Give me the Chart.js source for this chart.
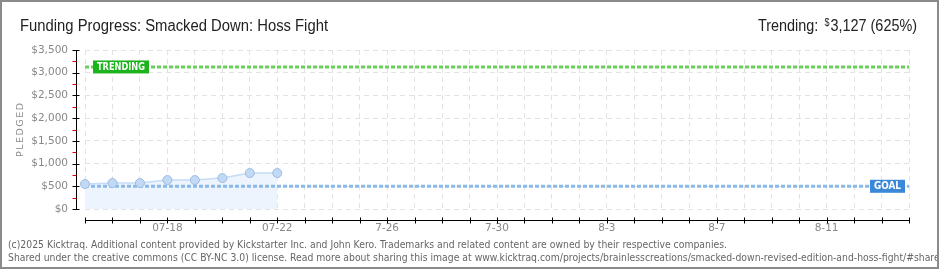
<!DOCTYPE html>
<html>
<head>
<meta charset="utf-8">
<script src="https://cdn.jsdelivr.net/npm/chart.js@4/dist/chart.umd.min.js"></script>
<style>
  html, body { margin: 0; padding: 0; background: #fff; }
  #wrap { position: relative; width: 940px; height: 270px; }
</style>
</head>
<body>
<div id="wrap"><canvas id="fundingChart" width="940" height="270"></canvas></div>
<script>
// Date pledge (zile de la 07-15)
const pledgeDays = [0, 1, 2, 3, 4, 5, 6, 7];
const pledged = [549, 571, 571, 637, 637, 681, 791, 791];
const goal = 500;
const trending = 3127;
const lastDay = 30; // 08-14

// Etichete axe
const labelDays = [3, 7, 11, 15, 19, 23, 27];
const labelTexts = ['07-18', '07-22', '7-26', '7-30', '8-3', '8-7', '8-11'];
const yMax = 3500;
const yStep = 500;

const titleText = 'Funding Progress: Smacked Down: Hoss Fight';
const trendLabel = 'Trending:';
const trendValue = '3,127 (625%)';
const footerLines = [
  '(c)2025 Kicktraq. Additional content provided by Kickstarter Inc. and John Kero. Trademarks and related content are owned by their respective companies.',
  'Shared under the creative commons (CC BY-NC 3.0) license. Read more about sharing this image at www.kicktraq.com/projects/brainlesscreations/smacked-down-revised-edition-and-hoss-fight/#share'
];

// Text scalat pe o latime data
function fitText(ctx, text, x, y, font, width, color) {
  ctx.save();
  ctx.font = font;
  ctx.fillStyle = color;
  ctx.textBaseline = 'alphabetic';
  ctx.textAlign = 'left';
  const w = ctx.measureText(text).width;
  const k = width ? width / w : 1;
  ctx.translate(x, y);
  ctx.scale(k, 1);
  ctx.fillText(text, 0, 0);
  ctx.restore();
  return k;
}

function drawTag(ctx, text, x, yMid, w, h, bg, alignRight) {
  const left = alignRight ? x - w : x;
  ctx.save();
  ctx.fillStyle = bg;
  ctx.fillRect(left, yMid - h / 2, w, h);
  ctx.fillStyle = '#fff';
  ctx.font = 'bold 10px "DejaVu Sans"';
  ctx.textBaseline = 'middle';
  ctx.textAlign = 'left';
  const tw = ctx.measureText(text).width;
  const target = w - 8;
  ctx.translate(left + 4, yMid + 0.5);
  ctx.scale(target / tw, 1);
  ctx.fillText(text, 0, 0);
  ctx.restore();
}

const decorPlugin = {
  id: 'decor',
  beforeDraw(chart) {
    const ctx = chart.ctx;
    ctx.save();
    ctx.fillStyle = '#fff';
    ctx.fillRect(0, 0, chart.width, chart.height);
    ctx.restore();
  },
  afterDraw(chart) {
    const ctx = chart.ctx;
    const area = chart.chartArea;
    const xs = chart.scales.x;
    const ys = chart.scales.y;

    // axa Y separata
    ctx.save();
    ctx.strokeStyle = '#000';
    ctx.lineWidth = 1;
    const axX = Math.round(area.left - 9) + 0.5;
    ctx.beginPath();
    ctx.moveTo(axX, area.top);
    ctx.lineTo(axX, area.bottom + 1);
    ctx.stroke();
    for (let v = 0; v <= yMax; v += yStep / 2) {
      const py = Math.round(ys.getPixelForValue(v)) + 0.5;
      ctx.beginPath();
      if (v % yStep === 0) {
        ctx.strokeStyle = '#000';
        ctx.moveTo(axX - 4, py);
        ctx.lineTo(axX + 3, py);
      } else {
        ctx.strokeStyle = '#e00000';
        ctx.moveTo(axX - 4, py);
        ctx.lineTo(axX, py);
      }
      ctx.stroke();
    }

    // axa X separata
    const axY = Math.round(area.bottom + 11) + 0.5;
    ctx.strokeStyle = '#000';
    ctx.beginPath();
    ctx.moveTo(area.left, axY);
    ctx.lineTo(area.right, axY);
    ctx.stroke();
    for (let d = 0; d <= lastDay; d++) {
      const px = Math.round(xs.getPixelForValue(d)) + 0.5;
      ctx.beginPath();
      ctx.moveTo(px, axY - 3);
      ctx.lineTo(px, axY + 3);
      ctx.stroke();
    }
    ctx.restore();

    // etichete TRENDING / GOAL
    drawTag(ctx, 'TRENDING', area.left + 8, ys.getPixelForValue(trending), 56, 13, '#1db31d', false);
    drawTag(ctx, 'GOAL', area.right - 4, ys.getPixelForValue(goal), 35, 13, '#3b88d8', true);

    // titlu axa Y
    ctx.save();
    ctx.translate(21, 130);
    ctx.rotate(-Math.PI / 2);
    ctx.fillStyle = '#888';
    ctx.font = '9.5px "DejaVu Sans"';
    ctx.textAlign = 'left';
    ctx.textBaseline = 'middle';
    const word = 'PLEDGED';
    let tw = 0;
    const gap = 1.5;
    for (const ch of word) tw += ctx.measureText(ch).width + gap;
    tw -= gap;
    let cx = -tw / 2;
    for (const ch of word) {
      ctx.fillText(ch, cx, 0);
      cx += ctx.measureText(ch).width + gap;
    }
    ctx.restore();

    // titlu
    fitText(ctx, titleText, 20, 31, '16px "Liberation Sans"', 308, '#222');

    // trending, aliniat la dreapta, cu scalare uniforma
    ctx.save();
    const bigFont = '16px "Liberation Sans"';
    const smallFont = '10px "Liberation Sans"';
    ctx.font = bigFont;
    const wLabel = ctx.measureText(trendLabel).width;
    const wValue = ctx.measureText(trendValue).width;
    ctx.font = smallFont;
    const wDollar = ctx.measureText('$').width;
    const natural = wLabel + 7 + wDollar + 1 + wValue;
    const k2 = (917 - 758) / natural;
    ctx.translate(758, 31);
    ctx.scale(k2, 1);
    ctx.fillStyle = '#222';
    ctx.font = bigFont;
    ctx.fillText(trendLabel, 0, 0);
    ctx.font = smallFont;
    ctx.fillText('$', wLabel + 7, -5);
    ctx.font = bigFont;
    ctx.fillText(trendValue, wLabel + 7 + wDollar + 1, 0);
    ctx.restore();

    // subsol
    const k = fitText(ctx, footerLines[0], 8, 248, '11px "DejaVu Sans"', 719, '#666');
    ctx.save();
    ctx.beginPath();
    ctx.rect(0, 0, 937, 270);
    ctx.clip();
    ctx.font = '11px "DejaVu Sans"';
    ctx.fillStyle = '#666';
    ctx.translate(8, 261);
    ctx.scale(k, 1);
    ctx.fillText(footerLines[1], 0, 0);
    ctx.restore();

    // chenar
    ctx.save();
    ctx.strokeStyle = '#8a8a8a';
    ctx.lineWidth = 2;
    ctx.strokeRect(1, 1, 937, 267);
    ctx.restore();
  }
};

const gridColor = '#e3e3e3';

new Chart(document.getElementById('fundingChart'), {
  type: 'line',
  data: {
    datasets: [
      {
        label: 'Pledged',
        data: pledgeDays.map((d, i) => ({ x: d, y: pledged[i] })),
        borderColor: '#c4dcf6',
        borderWidth: 1.5,
        backgroundColor: '#edf4fd',
        fill: 'origin',
        tension: 0,
        clip: false,
        pointRadius: 4.5,
        pointBackgroundColor: '#c2d9f5',
        pointBorderColor: '#9dbce2',
        pointBorderWidth: 1,
        order: 1
      },
      {
        label: 'Goal',
        data: [{ x: 0, y: goal }, { x: lastDay, y: goal }],
        borderColor: '#8bb9e8',
        borderWidth: 3,
        borderDash: [4, 2],
        pointRadius: 0,
        fill: false,
        order: 2
      },
      {
        label: 'Trending',
        data: [{ x: 0, y: trending }, { x: lastDay, y: trending }],
        borderColor: '#68cf58',
        borderWidth: 3,
        borderDash: [4, 2],
        pointRadius: 0,
        fill: false,
        order: 3
      }
    ]
  },
  options: {
    responsive: false,
    animation: false,
    devicePixelRatio: 1,
    layout: { padding: { left: 0, top: 50, right: 31, bottom: 0 } },
    plugins: {
      legend: { display: false },
      tooltip: { enabled: false },
      filler: { drawTime: 'beforeDatasetsDraw' }
    },
    scales: {
      x: {
        type: 'linear',
        min: 0,
        max: lastDay,
        afterFit: s => { s.height = 61; },
        grid: { color: gridColor, lineWidth: 1, drawTicks: false },
        border: { display: false, dash: [5, 4] },
        ticks: {
          stepSize: 1,
          autoSkip: false,
          maxRotation: 0,
          padding: 13,
          color: '#888',
          font: { family: 'DejaVu Sans', size: 10.5 },
          callback: v => {
            const i = labelDays.indexOf(v);
            return i >= 0 ? labelTexts[i] : '';
          }
        }
      },
      y: {
        min: 0,
        max: yMax,
        afterFit: s => { s.width = 85; },
        grid: { color: gridColor, lineWidth: 1, drawTicks: false },
        border: { display: false, dash: [5, 4] },
        ticks: {
          stepSize: yStep,
          padding: 17,
          color: '#888',
          font: { family: 'DejaVu Sans', size: 10.5 },
          callback: v => '$' + v.toLocaleString('en-US')
        }
      }
    }
  },
  plugins: [decorPlugin]
});
</script>
</body>
</html>
